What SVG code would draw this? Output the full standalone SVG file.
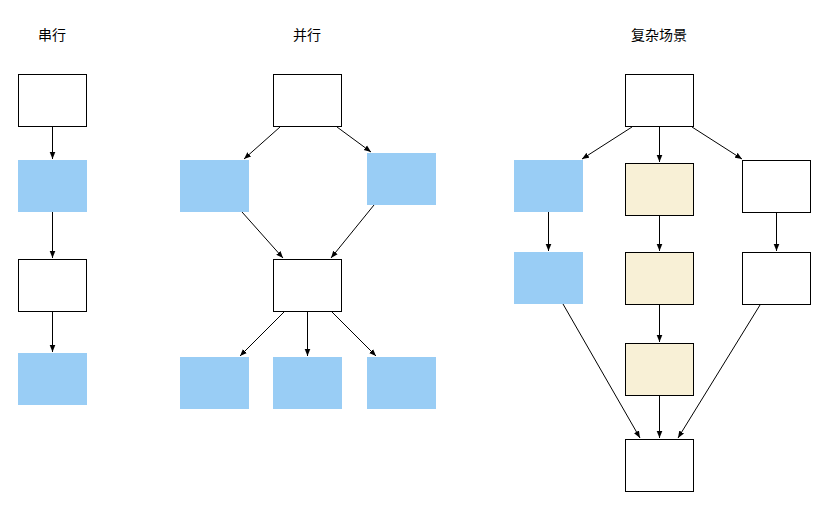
<svg xmlns="http://www.w3.org/2000/svg" width="830" height="516" viewBox="0 0 830 516">
<style>
.w{fill:#fff;stroke:#000;stroke-width:1}
.b{fill:#99cdf5;stroke:none}
.y{fill:#f8f0d6;stroke:#000;stroke-width:1}
.t{font-family:"Noto Sans CJK SC",sans-serif;font-size:14px;text-anchor:middle;fill:#000}
#c line{stroke:#000;stroke-width:1;marker-end:url(#a)}
</style>
<defs><marker id="a" viewBox="0 0 10 10" refX="10" refY="5" markerWidth="7" markerHeight="7" orient="auto"><path d="M0,1L10,5L0,9z" fill="#000"/></marker></defs>
<rect width="830" height="516" fill="#fff"/>
<text class="t" x="52" y="40">串行</text>
<text class="t" x="307" y="40">并行</text>
<text class="t" x="659" y="40">复杂场景</text>
<g id="s1"><rect class="w" x="18.5" y="74.5" width="68" height="52"/></g>
<g id="s2"><rect class="b" x="18" y="160" width="69" height="52"/></g>
<g id="s3"><rect class="w" x="18.5" y="259.5" width="68" height="52"/></g>
<g id="s4"><rect class="b" x="18" y="353" width="69" height="52"/></g>
<g id="p1"><rect class="w" x="273.5" y="74.5" width="68" height="52"/></g>
<g id="p2"><rect class="b" x="180" y="160" width="69" height="52"/></g>
<g id="p3"><rect class="b" x="367" y="153" width="69" height="52"/></g>
<g id="p4"><rect class="w" x="273.5" y="259.5" width="68" height="52"/></g>
<g id="p5"><rect class="b" x="180" y="357" width="69" height="52"/></g>
<g id="p6"><rect class="b" x="273" y="357" width="69" height="52"/></g>
<g id="p7"><rect class="b" x="367" y="357" width="69" height="52"/></g>
<g id="c1"><rect class="w" x="625.5" y="74.5" width="68" height="52"/></g>
<g id="c2"><rect class="b" x="514" y="160" width="69" height="52"/></g>
<g id="c3"><rect class="y" x="625.5" y="163.5" width="68" height="52"/></g>
<g id="c4"><rect class="w" x="742.5" y="160.5" width="68" height="52"/></g>
<g id="c5"><rect class="b" x="514" y="252" width="69" height="52"/></g>
<g id="c6"><rect class="y" x="625.5" y="252.5" width="68" height="52"/></g>
<g id="c7"><rect class="w" x="742.5" y="252.5" width="68" height="52"/></g>
<g id="c8"><rect class="y" x="625.5" y="343.5" width="68" height="52"/></g>
<g id="c9"><rect class="w" x="625.5" y="439.5" width="68" height="52"/></g>
<g id="c">
<line x1="52.5" y1="127" x2="52.5" y2="159"/>
<line x1="52.5" y1="212" x2="52.5" y2="258"/>
<line x1="52.5" y1="312" x2="52.5" y2="352"/>
<line x1="280" y1="127" x2="244" y2="159"/>
<line x1="337" y1="127" x2="371" y2="152"/>
<line x1="242" y1="212" x2="283" y2="258"/>
<line x1="374" y1="205" x2="331" y2="258"/>
<line x1="284" y1="312" x2="240" y2="356"/>
<line x1="307.5" y1="312" x2="307.5" y2="356"/>
<line x1="332" y1="312" x2="376" y2="356"/>
<line x1="632" y1="127" x2="582" y2="159"/>
<line x1="659.5" y1="127" x2="659.5" y2="162"/>
<line x1="692" y1="127" x2="742" y2="159"/>
<line x1="548.5" y1="212" x2="548.5" y2="251"/>
<line x1="659.5" y1="216" x2="659.5" y2="251"/>
<line x1="776.5" y1="213" x2="776.5" y2="251"/>
<line x1="659.5" y1="305" x2="659.5" y2="342"/>
<line x1="659.5" y1="396" x2="659.5" y2="438"/>
<line x1="563" y1="304" x2="640" y2="438"/>
<line x1="760" y1="305" x2="678" y2="438"/>
</g>
</svg>
